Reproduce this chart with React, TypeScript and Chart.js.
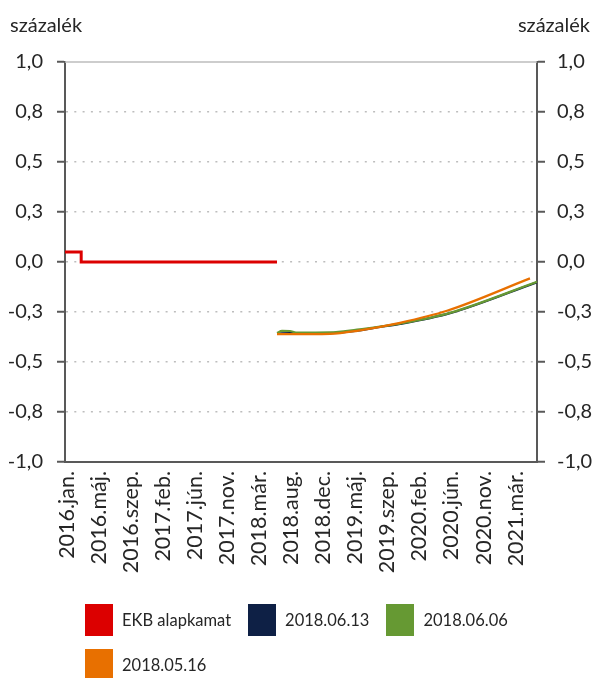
import React, { useEffect, useRef } from 'react';
import { Chart, registerables } from 'chart.js';

Chart.register(...registerables);

const FONT = 'Lato, "Open Sans", sans-serif';
const TEXT_COLOR = '#262626';
const AXIS_COLOR = '#595959';
const GRID_COLOR = '#bdbdbd';

const unitLabel = 'százalék';

// x axis: months since 2016 January (date axis with evenly spaced labels)
const xMin = -0.235;
const xMax = 64.94;
const xTickLabels = [
  '2016.jan.', '2016.máj.', '2016.szep.', '2017.feb.', '2017.jún.',
  '2017.nov.', '2018.már.', '2018.aug.', '2018.dec.', '2019.máj.',
  '2019.szep.', '2020.feb.', '2020.jún.', '2020.nov.', '2021.már.',
];
const xTickMonths = [
  0, 4.43, 8.86, 13.29, 17.71, 22.14, 26.57, 31, 35.43, 39.86, 44.29, 48.71, 53.14, 57.57, 62,
];

// y axis
const yTickLabels = ['-1,0', '-0,8', '-0,5', '-0,3', '0,0', '0,3', '0,5', '0,8', '1,0'];

// EKB alapkamat (stepped)
const ecbMonths = [-0.235, 2.0, 29.04];
const ecbRate = [0.05, 0.0, 0.0];

// Forward curves
const fwd0613Months = [29.04, 30.83, 36.36, 40.09, 43.26, 46.02, 52.93, 64.94];
const fwd0613 = [-0.359, -0.355, -0.355, -0.343, -0.325, -0.31, -0.256, -0.101];

const fwd0606Months = [29.04, 29.73, 30.83, 31.66, 36.36, 40.09, 43.26, 46.02, 52.93, 64.94];
const fwd0606 = [-0.355, -0.344, -0.345, -0.353, -0.352, -0.338, -0.323, -0.308, -0.254, -0.099];

const fwd0516Months = [29.04, 36.36, 40.09, 46.02, 52.51, 63.97];
const fwd0516 = [-0.361, -0.359, -0.344, -0.304, -0.244, -0.082];

const seriesNames = ['EKB alapkamat', '2018.06.13', '2018.06.06', '2018.05.16'];
const seriesColors = ['#dc0000', '#0e2045', '#669933', '#e87000'];

const toPoints = (xs: number[], ys: number[]) => xs.map((x, i) => ({ x, y: ys[i] }));

const titlePlugin = {
  id: 'unitTitles',
  beforeDatasetsDraw(chart: any) {
    const { ctx, chartArea } = chart;
    ctx.save();
    ctx.strokeStyle = GRID_COLOR;
    ctx.lineWidth = 1.5;
    ctx.beginPath();
    ctx.moveTo(chartArea.left, chartArea.top);
    ctx.lineTo(chartArea.right, chartArea.top);
    ctx.stroke();
    ctx.restore();
  },
  afterDraw(chart: any) {
    const { ctx } = chart;
    ctx.save();
    ctx.font = `20px ${FONT}`;
    ctx.fillStyle = TEXT_COLOR;
    ctx.textBaseline = 'alphabetic';
    ctx.textAlign = 'left';
    ctx.fillText(unitLabel, 10, 32);
    ctx.textAlign = 'right';
    ctx.fillText(unitLabel, 590, 32);
    ctx.restore();
  },
};

const yAxis = (position: 'left' | 'right', width: number, padding: number, onArea: boolean) => ({
  type: 'linear' as const,
  position,
  min: -1,
  max: 1,
  afterFit: (s: any) => {
    s.width = width;
  },
  ticks: {
    stepSize: 0.25,
    padding,
    color: TEXT_COLOR,
    font: { family: FONT, size: 20 },
    callback: (_v: any, i: number) => yTickLabels[i],
  },
  grid: {
    drawOnChartArea: onArea,
    color: (c: any) => (c.tick && (c.tick.value === -1 || c.tick.value === 1) ? 'rgba(0,0,0,0)' : GRID_COLOR),
    lineWidth: 1.5,
    tickColor: AXIS_COLOR,
    tickWidth: 2,
    tickLength: 8,
    tickBorderDash: [],
  },
  border: { display: true, color: AXIS_COLOR, width: 2, dash: [2, 6.3] },
});

export default function App() {
  const ref = useRef<HTMLCanvasElement | null>(null);

  useEffect(() => {
    if (!ref.current) return;
    const chart = new Chart(ref.current, {
      type: 'line',
      data: {
        datasets: [
          {
            label: seriesNames[0],
            data: toPoints(ecbMonths, ecbRate),
            borderColor: seriesColors[0],
            backgroundColor: seriesColors[0],
            borderWidth: 3,
            stepped: 'before',
            pointRadius: 0,
            order: 0,
          },
          {
            label: seriesNames[1],
            data: toPoints(fwd0613Months, fwd0613),
            borderColor: seriesColors[1],
            backgroundColor: seriesColors[1],
            borderWidth: 2.25,
            cubicInterpolationMode: 'monotone',
            pointRadius: 0,
            order: 3,
          },
          {
            label: seriesNames[2],
            data: toPoints(fwd0606Months, fwd0606),
            borderColor: seriesColors[2],
            backgroundColor: seriesColors[2],
            borderWidth: 2.25,
            cubicInterpolationMode: 'monotone',
            pointRadius: 0,
            order: 2,
          },
          {
            label: seriesNames[3],
            data: toPoints(fwd0516Months, fwd0516),
            borderColor: seriesColors[3],
            backgroundColor: seriesColors[3],
            borderWidth: 2.25,
            cubicInterpolationMode: 'monotone',
            pointRadius: 0,
            order: 1,
          },
        ],
      },
      options: {
        animation: false,
        responsive: false,
        devicePixelRatio: 1,
        layout: { padding: { top: 62, bottom: 86, left: 0, right: 0 } },
        plugins: { legend: { display: false }, tooltip: { enabled: false } },
        scales: {
          x: {
            type: 'linear',
            min: xMin,
            max: xMax,
            afterBuildTicks: (s: any) => {
              s.ticks = xTickMonths.map((v) => ({ value: v }));
            },
            afterFit: (s: any) => {
              s.height = 130;
            },
            ticks: {
              autoSkip: false,
              minRotation: 90,
              maxRotation: 90,
              padding: 9,
              color: TEXT_COLOR,
              font: { family: FONT, size: 21.5 },
              callback: (_v: any, i: number) => xTickLabels[i],
            },
            grid: { display: false, drawTicks: false },
            border: { display: true, color: AXIS_COLOR, width: 2 },
          },
          y: yAxis('left', 65, 14, true),
          y2: yAxis('right', 56, 12, false),
        },
      },
      plugins: [titlePlugin],
    } as any);
    return () => chart.destroy();
  }, []);

  return (
    <div style={{ position: 'absolute', left: 0, top: 0, width: 593, height: 678, background: '#fff' }}>
      <canvas ref={ref} width={593} height={678} style={{ width: 593, height: 678, display: 'block' }} />
      <div
        style={{
          position: 'absolute',
          left: 85,
          top: 604,
          width: 508,
          display: 'flex',
          flexWrap: 'wrap',
          columnGap: 17,
          rowGap: 13,
          fontFamily: FONT,
          fontSize: 16.5,
          color: TEXT_COLOR,
        }}
      >
        {seriesNames.map((name, i) => (
          <div key={name} style={{ display: 'flex', alignItems: 'center', height: 32 }}>
            <span style={{ display: 'inline-block', width: 28, height: 32, background: seriesColors[i], marginRight: 9 }} />
            <span style={{ lineHeight: '32px', whiteSpace: 'nowrap' }}>{name}</span>
          </div>
        ))}
      </div>
    </div>
  );
}
